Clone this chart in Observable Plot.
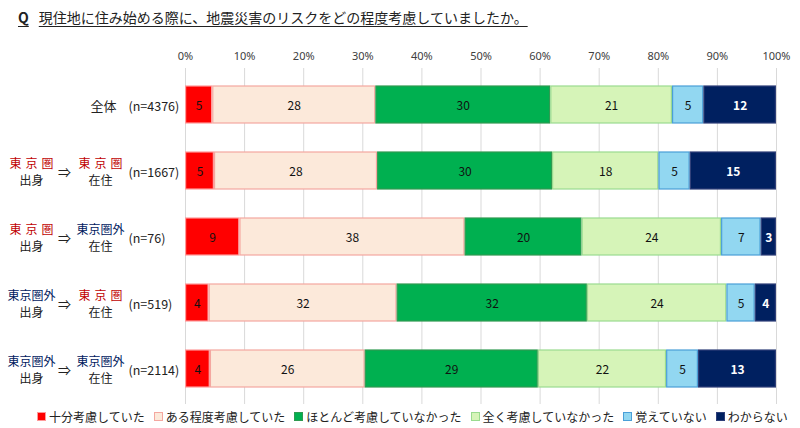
<!DOCTYPE html>
<html><head><meta charset="utf-8">
<script src="https://cdn.jsdelivr.net/npm/d3@7"></script>
<script src="https://cdn.jsdelivr.net/npm/@observablehq/plot@0.6"></script>
<style>
body{margin:0;background:#fff;font-family:"Noto Sans CJK JP","Noto Sans",sans-serif;color:#222;}
#wrap{width:800px;height:428px;overflow:hidden;}
#title{height:34px;box-sizing:border-box;padding:9px 0 0 18px;font-size:14px;line-height:17px;white-space:nowrap;}
#title span.t{text-decoration:underline;text-underline-offset:3px;}
#title b{font-weight:bold;margin-right:10px;}
#legend{height:24px;box-sizing:border-box;padding:1px 0 0 37px;display:flex;align-items:center;font-size:12px;line-height:14px;color:#222;white-space:nowrap;}
#legend .it{display:flex;align-items:center;margin-right:9px;flex-shrink:0;}
#legend .sw{width:7px;height:7px;border:1px solid;margin-right:3px;}
</style></head><body>
<div id="wrap">
<div id="title"><span class="t"><b>Q</b>現住地に住み始める際に、地震災害のリスクをどの程度考慮していましたか。</span></div>
<div id="chart"></div>
<div id="legend"></div>
</div>
<script>
const categories = ["十分考慮していた","ある程度考慮していた","ほとんど考慮していなかった","全く考慮していなかった","覚えていない","わからない"];
const groups = ["全体","東京圏→東京圏","東京圏→東京圏外","東京圏外→東京圏","東京圏外→東京圏外"];
const origins = [null,"東京圏","東京圏","東京圏外","東京圏外"];
const dests = [null,"東京圏","東京圏外","東京圏","東京圏外"];
const nLabels = ["(n=4376)","(n=1667)","(n=76)","(n=519)","(n=2114)"];
const values = [
  [4.6,27.6,29.6,20.6,5.3,12.3],
  [4.9,27.6,29.6,18.0,5.3,14.6],
  [9.2,38.1,19.8,23.6,6.7,2.6],
  [4.0,31.8,32.2,23.6,4.8,3.6],
  [4.2,26.2,29.3,21.7,5.4,13.2]
];
const fills = ["#FF0000","#FCE9DA","#00B050","#D6F4B8","#92D7F1","#002060"];
const strokes = ["#FF9A9A","#F4A7A0","#2F9A50","#9ADB8F","#4A9FD8","#2E3E78"];
const xTicks = [0,10,20,30,40,50,60,70,80,90,100];

const rows = [];
groups.forEach((g,i)=>categories.forEach((c,j)=>rows.push({group:g,cat:c,value:values[i][j]})));
const lab = groups.map((g,i)=>({group:g,origin:origins[i],dest:dests[i],n:nLabels[i]}));
const two = lab.filter(d=>d.origin);
const regionColor = s => s === "東京圏" ? "#C00000" : "#002060";
const disp = s => s === "東京圏" ? "東\u2004京\u2004圏" : s;
const ff = '"Noto Sans CJK JP", sans-serif';
const last = categories[categories.length-1];

const plot = Plot.plot({
  width: 800, height: 370,
  marginTop: 34, marginBottom: 0, marginLeft: 185, marginRight: 24,
  style: {fontFamily: ff, background: "white"},
  x: {domain:[0,100], axis:null},
  y: {domain: groups, axis: null, paddingInner: 0.446, paddingOuter: 0.24},
  color: {domain: categories, range: fills},
  marks: [
    Plot.gridX(xTicks, {stroke:"#D9D9D9", strokeOpacity:1, strokeWidth:1}),
    Plot.axisX({anchor:"top", ticks:xTicks, tickFormat:d=>d+"%", tickSize:0, tickPadding:9, fontSize:11, fill:"#404040", label:null, fontFamily:'"Noto Sans", sans-serif'}),
    Plot.barX(rows, Plot.stackX({x:"value", y:"group", z:"cat", order:null, fill:"cat",
      stroke: d => strokes[categories.indexOf(d.cat)], strokeWidth:1.2, insetLeft:0.6, insetRight:0.6})),
    Plot.text(rows, Plot.stackX({x:"value", y:"group", z:"cat", order:null,
      text: d => d.cat === last ? "" : Math.round(d.value), fill:"#111", fontSize:12, dy:1})),
    Plot.text(rows, Plot.stackX({x:"value", y:"group", z:"cat", order:null,
      text: d => d.cat === last ? Math.round(d.value) : "", fill:"white", fontWeight:"bold", fontSize:12, dy:1})),
    // row labels
    Plot.text(lab.filter(d=>!d.origin), {y:"group", text:()=> "全体", frameAnchor:"left", dx:-82, dy:2, textAnchor:"middle", fontSize:13, fill:"#222"}),
    Plot.text(lab, {y:"group", text:"n", frameAnchor:"left", dx:-57, dy:2, textAnchor:"start", fontSize:12.5, fill:"#222"}),
    Plot.text(two, {y:"group", text:d=>disp(d.origin), fill:d=>regionColor(d.origin), frameAnchor:"left", dx:-154, dy:-7, textAnchor:"middle", fontSize:12}),
    Plot.text(two, {y:"group", text:()=>"出身", frameAnchor:"left", dx:-154, dy:10, textAnchor:"middle", fontSize:12, fill:"#222"}),
    Plot.text(two, {y:"group", text:()=>"⇒", frameAnchor:"left", dx:-121, dy:2, textAnchor:"middle", fontSize:13, fill:"#222"}),
    Plot.text(two, {y:"group", text:d=>disp(d.dest), fill:d=>regionColor(d.dest), frameAnchor:"left", dx:-85, dy:-7, textAnchor:"middle", fontSize:12}),
    Plot.text(two, {y:"group", text:()=>"在住", frameAnchor:"left", dx:-85, dy:10, textAnchor:"middle", fontSize:12, fill:"#222"})
  ]
});
document.getElementById("chart").appendChild(plot);

const leg = document.getElementById("legend");
categories.forEach((c,i)=>{
  const it = document.createElement("div"); it.className="it";
  const sw = document.createElement("div"); sw.className="sw";
  sw.style.background = fills[i]; sw.style.borderColor = strokes[i];
  const t = document.createElement("span"); t.textContent = c;
  it.appendChild(sw); it.appendChild(t); leg.appendChild(it);
});
</script>
</body></html>
